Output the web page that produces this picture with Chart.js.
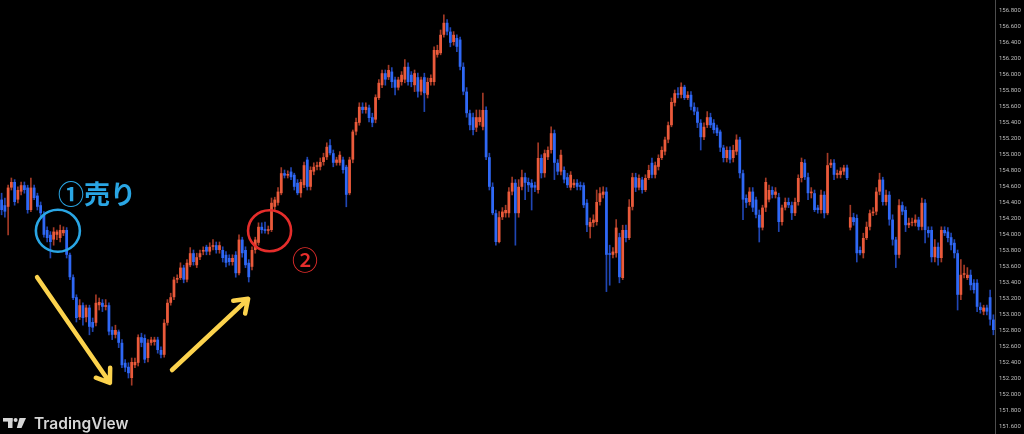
<!DOCTYPE html>
<html><head><meta charset="utf-8">
<script src="https://cdn.jsdelivr.net/npm/chart.js@4.4.1/dist/chart.umd.min.js"></script>
<style>html,body{margin:0;padding:0;background:#000;overflow:hidden}#wrap{width:1024px;height:434px;position:relative}</style>
</head><body><div id="wrap"><canvas id="c" width="1024" height="434"></canvas></div>
<script>
const opens=[154.43,154.36,154.34,154.58,154.65,154.43,154.53,154.61,154.58,154.30,
154.58,154.48,154.36,154.24,154.05,153.99,153.93,153.99,153.95,154.01,
154.05,153.74,153.46,153.21,152.96,153.11,152.96,153.08,152.90,152.89,
153.11,153.14,153.09,153.11,152.80,152.74,152.78,152.64,152.39,152.34,
152.20,152.36,152.39,152.71,152.70,152.45,152.64,152.65,152.68,152.55,
152.49,152.89,153.14,153.21,153.43,153.45,153.58,153.43,153.61,153.76,
153.61,153.71,153.78,153.84,153.78,153.84,153.86,153.80,153.80,153.74,
153.70,153.65,153.74,153.51,153.93,153.80,153.64,153.59,153.80,153.89,
154.09,154.06,154.04,154.05,154.34,154.39,154.51,154.76,154.73,154.78,154.74,154.64,
154.51,154.61,154.93,154.59,154.78,154.84,154.84,154.90,154.96,155.11,155.01,154.89,
154.89,154.93,154.84,154.51,154.93,155.28,155.39,155.59,155.55,155.58,
155.46,155.43,155.70,155.86,156.01,155.96,156.03,155.93,155.83,155.90,
155.93,156.09,155.99,155.86,155.96,155.78,155.96,155.74,155.90,155.90,
156.24,156.26,156.49,156.64,156.53,156.40,156.45,156.43,156.09,155.78,
155.51,155.46,155.33,155.40,155.34,155.55,154.96,154.59,154.26,153.90,
154.21,154.26,154.26,154.53,154.64,154.26,154.59,154.71,154.65,154.64,
154.61,154.55,154.95,154.76,154.96,155.05,155.26,154.89,154.78,154.80,
154.71,154.58,154.61,154.64,154.61,154.61,154.39,154.09,154.14,154.15,
154.40,154.49,154.53,153.76,153.74,153.76,153.96,153.45,154.05,153.95,
154.34,154.71,154.58,154.68,154.55,154.70,154.89,154.74,154.84,
154.95,155.03,155.18,155.36,155.64,155.76,155.74,155.84,155.70,
155.74,155.59,155.53,155.39,155.21,155.36,155.46,155.39,155.33,
155.28,155.08,154.95,155.05,154.95,155.03,155.18,154.76,154.45,154.40,
154.53,154.43,154.24,154.08,154.33,154.43,154.55,154.49,154.46,
154.15,154.33,154.40,154.36,154.26,154.40,154.70,154.89,154.71,154.51,
154.51,154.33,154.30,154.49,154.26,154.86,154.89,154.74,154.74,154.78,
154.83,154.08,154.21,154.20,153.80,153.76,153.95,154.09,154.26,154.28,
154.53,154.68,154.40,154.49,154.18,153.93,153.74,154.36,154.30,154.11,
154.14,154.14,154.18,154.09,154.39,154.05,154.05,153.71,153.84,153.70,
154.05,154.03,153.96,153.89,153.76,153.24,153.49,153.45,153.49,153.39,
153.39,153.09,153.03,153.08,153.21,152.93];
const highs=[154.51,154.45,154.61,154.70,154.68,154.59,154.65,154.65,154.61,154.70,
154.61,154.51,154.40,154.28,154.09,154.03,154.08,154.05,154.11,154.09,
154.08,153.76,153.49,153.24,153.18,153.14,153.11,153.11,152.95,153.24,
153.20,153.18,153.18,153.14,152.84,152.86,152.80,152.68,152.43,152.39,
152.45,152.45,152.74,152.76,152.74,152.68,152.71,152.71,152.71,152.59,
152.93,153.18,153.26,153.46,153.49,153.64,153.61,153.68,153.83,153.80,
153.76,153.80,153.84,153.86,153.89,153.93,153.90,153.90,153.84,153.78,
153.74,153.74,153.78,153.99,153.96,153.84,153.68,153.84,153.96,154.14,
154.14,154.15,154.10,154.45,154.46,154.58,154.83,154.80,154.79,154.83,154.76,154.68,
154.68,154.90,154.96,154.84,154.89,154.90,154.95,155.01,155.14,155.18,155.05,154.96,
155.03,154.96,154.86,154.96,155.30,155.45,155.64,155.64,155.64,155.61,
155.51,155.74,155.93,156.05,156.05,156.11,156.08,155.96,155.96,156.03,
156.18,156.14,156.03,156.05,156.01,155.96,156.01,155.95,155.99,156.34,
156.36,156.55,156.74,156.68,156.58,156.53,156.49,156.46,156.14,155.83,
155.55,155.51,155.55,155.55,155.76,155.59,155.01,154.64,154.30,154.28,
154.33,154.36,154.58,154.71,154.68,154.68,154.80,154.76,154.70,154.68,
154.65,155.14,154.99,155.05,155.09,155.34,155.30,154.93,155.05,154.84,
154.76,154.78,154.68,154.68,154.65,154.64,154.43,154.20,154.24,154.55,
154.58,154.59,154.58,153.86,153.83,154.18,154.01,154.11,154.11,154.43,
154.76,154.76,154.74,154.71,154.74,154.86,154.95,154.90,154.99,
155.09,155.21,155.40,155.70,155.80,155.83,155.89,155.86,155.78,
155.78,155.64,155.58,155.43,155.39,155.53,155.51,155.43,155.36,
155.30,155.11,155.09,155.09,155.11,155.24,155.21,154.80,154.49,154.58,
154.58,154.46,154.30,154.36,154.70,154.61,154.59,154.58,154.51,
154.36,154.45,154.45,154.40,154.45,154.74,154.95,154.93,154.76,154.58,
154.55,154.36,154.55,154.53,155.01,154.93,154.93,154.80,154.83,154.86,
154.86,154.36,154.26,154.24,153.84,154.01,154.15,154.30,154.33,154.58,
154.76,154.71,154.55,154.53,154.24,153.96,154.43,154.40,154.34,154.20,
154.20,154.24,154.21,154.45,154.43,154.09,154.09,153.93,153.89,154.09,
154.09,154.08,154.01,153.93,153.80,153.68,153.61,153.58,153.55,153.43,
153.43,153.14,153.11,153.11,153.30,152.99];
const lows=[154.24,154.21,153.99,154.55,154.36,154.39,154.49,154.51,154.26,154.28,
154.43,154.30,154.21,153.96,153.90,153.70,153.86,153.93,153.90,153.98,
153.70,153.43,153.18,152.90,152.93,152.86,152.90,152.74,152.78,152.85,
153.05,153.03,153.05,152.74,152.68,152.70,152.58,152.33,152.28,152.20,
152.11,152.33,152.35,152.59,152.39,152.40,152.61,152.61,152.51,152.45,
152.46,152.86,153.11,153.18,153.39,153.43,153.39,153.40,153.59,153.61,
153.58,153.68,153.74,153.74,153.74,153.80,153.76,153.76,153.65,153.59,
153.61,153.61,153.46,153.49,153.71,153.58,153.40,153.55,153.76,153.86,
154.01,154.01,154.00,154.03,154.30,154.36,154.49,154.70,154.70,154.68,154.55,154.49,
154.46,154.58,154.55,154.55,154.74,154.80,154.80,154.86,154.93,154.99,154.84,154.86,
154.86,154.76,154.34,154.49,154.89,155.24,155.36,155.51,155.51,155.40,
155.34,155.39,155.68,155.83,155.86,155.93,155.83,155.74,155.80,155.86,
155.89,155.86,155.84,155.78,155.71,155.74,155.53,155.70,155.86,155.86,
156.21,156.24,156.46,156.49,156.34,156.36,156.28,156.05,155.74,155.46,
155.30,155.24,155.28,155.36,155.30,154.93,154.55,154.24,153.86,153.89,
154.18,154.21,154.21,154.49,153.86,154.21,154.55,154.43,154.53,154.30,
154.53,154.51,154.70,154.71,154.93,155.01,154.68,154.74,154.74,154.64,
154.58,154.55,154.58,154.55,154.55,154.33,154.03,153.95,154.09,154.11,
154.36,154.45,153.28,153.36,153.70,153.71,153.39,153.43,153.90,153.93,
154.30,154.53,154.55,154.51,154.53,154.68,154.70,154.70,154.80,
154.93,154.99,155.14,155.34,155.60,155.70,155.70,155.68,155.68,
155.55,155.49,155.33,155.05,155.18,155.33,155.33,155.26,155.23,
155.03,154.90,154.90,154.89,154.90,154.99,154.70,154.18,154.33,154.36,
154.28,154.20,153.90,154.05,154.28,154.40,154.45,154.45,154.03,
154.11,154.30,154.33,154.18,154.23,154.36,154.65,154.68,154.43,154.45,
154.28,154.26,154.26,154.20,154.24,154.83,154.68,154.70,154.70,154.74,
154.68,154.05,154.11,153.65,153.74,153.70,153.93,154.05,154.23,154.24,
154.49,154.36,154.36,154.11,153.86,153.58,153.70,154.24,154.03,154.08,
154.10,154.10,154.05,154.05,153.89,153.96,153.65,153.65,153.61,153.65,
153.98,153.90,153.80,153.70,153.05,153.18,153.45,153.43,153.30,153.26,
153.03,153.01,152.99,152.99,152.86,152.74];
const closes=[154.30,154.28,154.58,154.65,154.40,154.55,154.61,154.55,154.30,154.58,
154.45,154.34,154.26,153.99,153.95,153.90,154.03,154.03,154.05,154.05,
153.74,153.46,153.20,152.95,153.11,152.95,153.08,152.84,152.83,153.14,
153.15,153.09,153.11,152.78,152.74,152.80,152.64,152.36,152.33,152.26,
152.40,152.40,152.71,152.64,152.43,152.64,152.68,152.68,152.55,152.49,
152.89,153.14,153.21,153.43,153.45,153.58,153.43,153.64,153.76,153.65,
153.71,153.76,153.80,153.78,153.84,153.86,153.80,153.86,153.70,153.64,
153.65,153.70,153.51,153.93,153.76,153.61,153.46,153.80,153.93,154.09,
154.05,154.04,154.06,154.39,154.43,154.53,154.76,154.73,154.75,154.71,154.59,154.51,
154.65,154.86,154.59,154.80,154.84,154.86,154.90,154.96,155.09,155.01,154.89,154.93,
154.99,154.80,154.49,154.93,155.28,155.40,155.59,155.55,155.59,155.45,
155.39,155.71,155.89,156.01,155.93,156.05,155.90,155.83,155.93,155.99,
156.09,155.90,155.90,156.01,155.78,155.93,155.76,155.90,155.95,156.30,
156.30,156.49,156.64,156.53,156.39,156.49,156.34,156.09,155.78,155.51,
155.36,155.30,155.46,155.46,155.55,154.96,154.59,154.26,153.90,154.21,
154.28,154.30,154.53,154.64,154.26,154.59,154.71,154.64,154.61,154.58,
154.58,154.95,154.76,155.01,155.05,155.26,154.89,154.78,154.99,154.68,
154.61,154.74,154.64,154.59,154.59,154.36,154.11,154.15,154.18,154.40,
154.51,154.53,153.74,153.74,153.78,154.08,153.46,154.05,153.95,154.34,
154.71,154.58,154.70,154.55,154.70,154.80,154.74,154.86,154.95,
155.05,155.18,155.36,155.65,155.76,155.74,155.84,155.70,155.74,
155.59,155.53,155.39,155.21,155.34,155.46,155.36,155.30,155.26,
155.08,154.95,155.05,154.93,155.05,155.18,154.76,154.43,154.39,154.53,
154.33,154.24,154.08,154.33,154.65,154.55,154.49,154.53,154.15,
154.33,154.40,154.36,154.26,154.40,154.70,154.90,154.71,154.51,154.53,
154.30,154.30,154.49,154.26,154.86,154.89,154.74,154.76,154.79,154.83,
154.70,154.21,154.15,153.76,153.76,153.95,154.09,154.26,154.28,154.53,
154.68,154.40,154.49,154.18,153.93,153.74,154.36,154.28,154.11,154.14,
154.15,154.18,154.09,154.39,154.05,154.01,153.71,153.84,153.70,154.05,
154.01,153.95,153.86,153.76,153.24,153.49,153.51,153.49,153.36,153.30,
153.09,153.05,153.08,153.03,152.93,152.80];
const yTickValues=[151.6,151.8,152.0,152.2,152.4,152.6,152.8,153.0,153.2,153.4,153.6,153.8,154.0,
154.2,154.4,154.6,154.8,155.0,155.2,155.4,155.6,155.8,156.0,156.2,156.4,156.6,156.8];
const yMin=151.5, yMax=156.925;
const labels=opens.map((_,i)=>'c'+(i+1));

const UP='#ea5a3b', DOWN='#2f68f5', UPW='rgba(205,72,48,0.8)', DOWNW='rgba(40,88,225,0.8)';
const isUp=closes.map((c,i)=>c>=opens[i]);

// annotation positions in data space (category index, price)
const notes={
  circ1:{i:17.3,p:154.04,rx:22,ry:21,color:'#2aa6e4'},
  circ2:{i:82.4,p:154.04,rx:21.5,ry:20.5,color:'#e52d2b'},
  text1:{i:17.3,p:154.50,text:'①売り',color:'#2aa6e4'},
  text2:{i:93.3,p:153.675,text:'②',color:'#e52d2b'},
  arrow1:{i0:10.9,p0:153.46,i1:33.3,p1:152.14},
  arrow2:{i0:52.4,p0:152.30,i1:75.8,p1:153.19}
};

const bgPlugin={id:'bg',beforeDraw(ch){const c=ch.ctx;c.save();c.fillStyle='#000';c.fillRect(0,0,ch.width,ch.height);c.restore();}};
const annPlugin={id:'ann',afterDraw(ch){
  const c=ch.ctx, X=v=>ch.scales.x.getPixelForValue(v), Y=v=>ch.scales.y.getPixelForValue(v);
  c.save();
  for(const k of ['circ1','circ2']){const o=notes[k];c.beginPath();c.ellipse(X(o.i),Y(o.p),o.rx,o.ry,0,0,Math.PI*2);c.strokeStyle=o.color;c.lineWidth=2.6;c.stroke();}
  c.fillStyle=notes.text1.color;c.font='bold 26px "Noto Sans CJK JP"';c.textAlign='left';c.textBaseline='middle';
  c.fillText(notes.text1.text,X(notes.text1.i),Y(notes.text1.p));
  c.fillStyle=notes.text2.color;c.font='500 26px "Noto Sans CJK JP"';c.textAlign='center';
  c.fillText(notes.text2.text,X(notes.text2.i),Y(notes.text2.p));
  c.strokeStyle='#fcd34d';c.lineWidth=4.5;c.lineCap='round';c.lineJoin='round';
  for(const k of ['arrow1','arrow2']){const a=notes[k];const x0=X(a.i0),y0=Y(a.p0),x1=X(a.i1),y1=Y(a.p1);
    const ang=Math.atan2(y1-y0,x1-x0),L=15,h=0.62;
    c.beginPath();c.moveTo(x0,y0);c.lineTo(x1,y1);
    c.moveTo(x1-L*Math.cos(ang-h),y1-L*Math.sin(ang-h));c.lineTo(x1,y1);c.lineTo(x1-L*Math.cos(ang+h),y1-L*Math.sin(ang+h));c.stroke();}
  // TradingView mark
  c.fillStyle='#d6d6d6';
  c.fillRect(3,418,9.5,3.6);c.fillRect(8,418,4.5,10);
  c.beginPath();c.arc(15.6,420,2,0,Math.PI*2);c.fill();
  c.beginPath();c.moveTo(19.5,418);c.lineTo(26,418);c.lineTo(21.5,428);c.lineTo(16.8,428);c.closePath();c.fill();
  c.font='600 15.5px Inter';c.textAlign='left';c.textBaseline='alphabetic';c.fillText('TradingView',34,428.5);
  c.restore();
}};

new Chart(document.getElementById('c'),{
  type:'bar',
  data:{labels,datasets:[
    {label:'wick',data:lows.map((l,i)=>[l,highs[i]]),backgroundColor:isUp.map(u=>u?UPW:DOWNW),barThickness:1,grouped:false,order:2},
    {label:'body',data:opens.map((o,i)=>[o,closes[i]]),backgroundColor:isUp.map(u=>u?UP:DOWN),barPercentage:0.85,categoryPercentage:1,grouped:false,minBarLength:1,order:1}
  ]},
  options:{
    responsive:false,animation:false,devicePixelRatio:1,
    layout:{padding:0},
    plugins:{legend:{display:false},tooltip:{enabled:false}},
    scales:{
      x:{display:false,offset:true},
      y:{position:'right',min:yMin,max:yMax,
        afterFit(s){s.width=29;s.paddingTop=0;s.paddingBottom=0;},
        afterBuildTicks(s){s.ticks=yTickValues.map(v=>({value:v}));},
        ticks:{autoSkip:false,padding:4,color:'#bdbdbd',font:{size:6,family:'Roboto'},callback:v=>Number(v).toFixed(3)},
        grid:{display:false,drawTicks:false},
        border:{display:true,color:'#4d4d4d',width:1}
      }
    }
  },
  plugins:[bgPlugin,annPlugin]
});
</script></body></html>
